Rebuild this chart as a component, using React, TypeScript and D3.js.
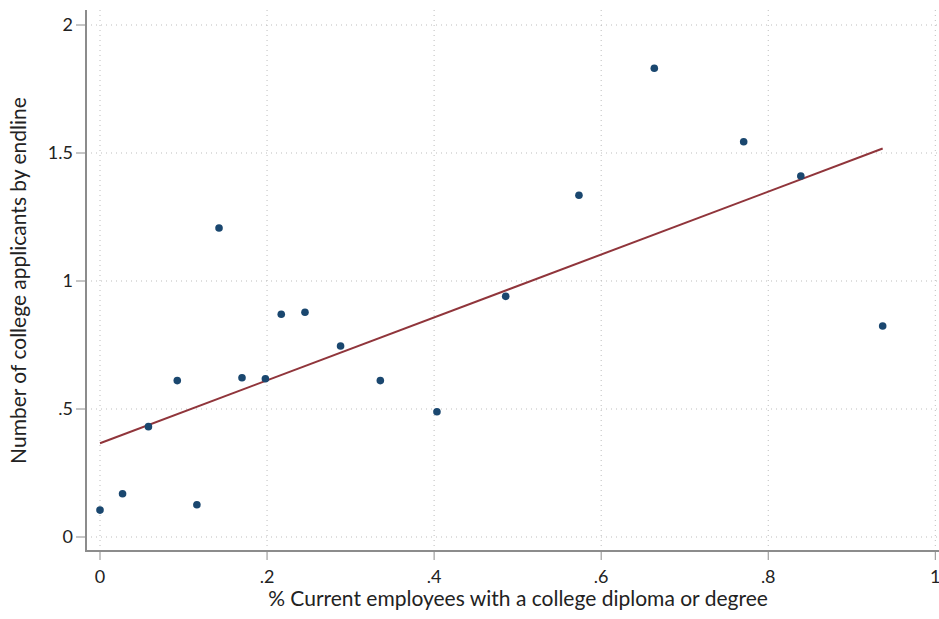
import React from "react";
import * as d3 from "d3";

// share of current employees with a college diploma (x) vs applicants (y)
const pctCollege = [
  0, 0.027, 0.058, 0.0925, 0.116, 0.1425, 0.17, 0.198, 0.217, 0.2454, 0.288,
  0.3356, 0.4034, 0.4857, 0.5734, 0.6636, 0.7706, 0.839, 0.937,
];
const applicants = [
  0.105, 0.169, 0.431, 0.611, 0.126, 1.207, 0.622, 0.618, 0.87, 0.878, 0.746,
  0.611, 0.489, 0.94, 1.335, 1.831, 1.544, 1.41, 0.824,
];

// fitted line
const fitIntercept = 0.366;
const fitSlope = 1.229;

const xTicks = [0, 0.2, 0.4, 0.6, 0.8, 1];
const yTicks = [0, 0.5, 1, 1.5, 2];

const fmt = (v: number) => (v === 0 || v === 1 || v === 2 ? String(v) : String(v).replace(/^0/, ""));

const width = 939,
  height = 619;
const axisLeft = 86,
  axisBottom = 551,
  plotTop = 10,
  plotRight = 939;

const App: React.FC = () => {
  const x = d3.scaleLinear().domain([0, 1]).range([100, 935.3]);
  const y = d3.scaleLinear().domain([0, 2]).range([537, 25]);

  const points = pctCollege.map((d, i) => ({ x: d, y: applicants[i] }));
  const [xMin, xMax] = d3.extent(pctCollege) as [number, number];
  const fit = [xMin, xMax].map((v) => ({ x: v, y: fitIntercept + fitSlope * v }));
  const line = d3
    .line<{ x: number; y: number }>()
    .x((d) => x(d.x))
    .y((d) => y(d.y));

  const font = "Lato, 'Open Sans', sans-serif";
  const grid = "#bdbdbd";

  return (
    <svg
      width={width}
      height={height}
      style={{ position: "absolute", left: 0, top: 0, background: "#fff" }}
      fontFamily={font}
    >
      {/* grid */}
      {yTicks.map((t) => (
        <line
          key={"gy" + t}
          x1={axisLeft}
          x2={plotRight}
          y1={y(t)}
          y2={y(t)}
          stroke={grid}
          strokeWidth={1}
          strokeDasharray="1,4"
        />
      ))}
      {xTicks.map((t) => (
        <line
          key={"gx" + t}
          x1={x(t)}
          x2={x(t)}
          y1={plotTop}
          y2={axisBottom}
          stroke={grid}
          strokeWidth={1}
          strokeDasharray="1,4"
        />
      ))}

      {/* axes */}
      <line x1={axisLeft} x2={axisLeft} y1={plotTop} y2={axisBottom} stroke="#8c8c8c" strokeWidth={2} />
      <line x1={axisLeft - 1} x2={plotRight} y1={axisBottom} y2={axisBottom} stroke="#8c8c8c" strokeWidth={2} />
      {yTicks.map((t) => (
        <g key={"ty" + t}>
          <line x1={axisLeft - 10} x2={axisLeft} y1={y(t)} y2={y(t)} stroke="#8c8c8c" strokeWidth={1} />
          <text x={73} y={y(t)} dy="0.35em" textAnchor="end" fontSize={18} fill="#222">
            {fmt(t)}
          </text>
        </g>
      ))}
      {xTicks.map((t) => (
        <g key={"tx" + t}>
          <line x1={x(t)} x2={x(t)} y1={axisBottom} y2={axisBottom + 9} stroke="#8c8c8c" strokeWidth={1} />
          <text x={x(t)} y={583} textAnchor="middle" fontSize={18} fill="#222">
            {fmt(t)}
          </text>
        </g>
      ))}

      {/* titles */}
      <text x={518} y={606} textAnchor="middle" fontSize={21} fill="#222">
        % Current employees with a college diploma or degree
      </text>
      <text
        transform={`translate(26,${(plotTop + axisBottom) / 2}) rotate(-90)`}
        textAnchor="middle"
        fontSize={21}
        fill="#222"
      >
        Number of college applicants by endline
      </text>

      {/* fitted line */}
      <path d={line(fit) || ""} fill="none" stroke="#90353b" strokeWidth={2} />

      {/* points */}
      {points.map((p, i) => (
        <circle key={i} cx={x(p.x)} cy={y(p.y)} r={3.8} fill="#1a476f" />
      ))}
    </svg>
  );
};

export default App;
